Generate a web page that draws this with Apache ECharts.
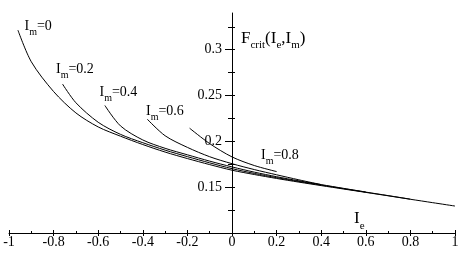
<!DOCTYPE html>
<html>
<head>
<meta charset="utf-8">
<script src="https://cdn.jsdelivr.net/npm/echarts@6/dist/echarts.min.js"></script>
<style>
html,body{margin:0;padding:0;background:#fff;}
#chart{width:460px;height:256px;}
</style>
</head>
<body>
<div id="chart"></div>
<script>
// ---- data ----
const imLevels = ['0', '0.2', '0.4', '0.6', '0.8'];

const im0X = [-0.96, -0.9, -0.8, -0.7, -0.6, -0.5, -0.4, -0.3, -0.2, -0.1, 0, 0.1, 0.2, 0.3, 0.4, 0.5, 0.6, 0.7, 0.8, 0.9, 1.0];
const im0Y = [0.3213, 0.2868, 0.2543, 0.2310, 0.2157, 0.2056, 0.1965, 0.1883, 0.1812, 0.1746, 0.1685, 0.1638, 0.1595, 0.1555, 0.1517, 0.1480, 0.1443, 0.1406, 0.1368, 0.1331, 0.1294];

const im2X = [-0.76, -0.7, -0.6, -0.5, -0.4, -0.3, -0.2, -0.1, 0, 0.1, 0.2, 0.3, 0.4, 0.5, 0.6, 0.7, 0.8];
const im2Y = [0.2625, 0.2421, 0.2208, 0.2076, 0.1985, 0.1904, 0.1833, 0.1765, 0.1702, 0.1650, 0.1604, 0.1562, 0.1523, 0.1484, 0.1446, 0.1408, 0.1369];

const im4X = [-0.57, -0.5, -0.4, -0.3, -0.2, -0.1, 0, 0.1, 0.2, 0.3, 0.4, 0.5, 0.6];
const im4Y = [0.2391, 0.2168, 0.2015, 0.1924, 0.1853, 0.1784, 0.1721, 0.1664, 0.1614, 0.1569, 0.1528, 0.1487, 0.1447];

const im6X = [-0.38, -0.3, -0.2, -0.1, 0, 0.1, 0.2, 0.3, 0.4];
const im6Y = [0.2242, 0.2061, 0.1934, 0.1832, 0.1756, 0.1692, 0.1635, 0.1580, 0.1528];

const im8X = [-0.19, -0.1, 0, 0.1, 0.2];
const im8Y = [0.2143, 0.1975, 0.1830, 0.1736, 0.1670];

const yLabelValues = [0.15, 0.2, 0.25, 0.3];
const yMajorTicks = [0.1, 0.15, 0.2, 0.25, 0.3];
const yMinorTicks = [0.125, 0.175, 0.225, 0.275, 0.325];

const curveXs = [im0X, im2X, im4X, im6X, im8X];
const curveYs = [im0Y, im2Y, im4Y, im6Y, im8Y];

// ---- chart ----
const FONT = 'Liberation Serif';
const GRID = {left: 9, right: 5, top: 13, bottom: 23};
const CHART_W = 460;
const chart = echarts.init(document.getElementById('chart'), null, {renderer: 'canvas'});

// y axis sits at x = 0 of the x axis (middle of the symmetric [-1, 1] range)
const yAxisOffset = -(CHART_W - GRID.left - GRID.right) / 2;

const series = curveXs.map((xs, k) => ({
  type: 'line',
  name: 'Im=' + imLevels[k],
  xAxisIndex: 0,
  yAxisIndex: 0,
  data: xs.map((x, i) => [x, curveYs[k][i]]),
  showSymbol: false,
  symbol: 'none',
  smooth: 0.3,
  lineStyle: {color: '#000', width: 1},
  silent: true,
  animation: false
}));

const yAllTicks = yMajorTicks.concat(yMinorTicks).sort((a, b) => a - b);

function yAx(extra) {
  return Object.assign({
    type: 'value', min: 0.1, max: 0.34, interval: 0.05, position: 'left', offset: yAxisOffset,
    splitLine: {show: false},
    axisLine: {show: false, onZero: false},
    axisLabel: {show: false}
  }, extra);
}

const labelRich = {
  i: {fontFamily: FONT, fontSize: 14, lineHeight: 14, verticalAlign: 'top', color: '#000'},
  s: {fontFamily: FONT, fontSize: 10, lineHeight: 10, verticalAlign: 'top', padding: [8, 0, 0, 0], color: '#000'}
};
const bigRich = {
  F: {fontFamily: FONT, fontSize: 17, lineHeight: 17, verticalAlign: 'top', color: '#000'},
  s: {fontFamily: FONT, fontSize: 11, lineHeight: 11, verticalAlign: 'top', padding: [10, 0, 0, 0], color: '#000'}
};
const ieRich = {
  F: {fontFamily: FONT, fontSize: 17, lineHeight: 17, verticalAlign: 'top', color: '#000'},
  s: {fontFamily: FONT, fontSize: 11, lineHeight: 11, verticalAlign: 'top', padding: [11, 0, 0, 0], color: '#000'}
};

const curveLabelPos = [[24.5, 19.2], [56, 62.5], [99.5, 85.5], [146, 104.2], [261, 148]];

const graphic = curveLabelPos.map((p, k) => ({
  type: 'text', x: p[0], y: p[1], silent: true,
  style: {text: '{i|I}{s|m}{i|=' + imLevels[k] + '}', rich: labelRich, verticalAlign: 'top', align: 'left'}
}));
graphic.push({
  type: 'text', x: 241, y: 30, silent: true,
  style: {text: '{F|F}{s|crit}{F|(I}{s|e}{F|,I}{s|m}{F|)}', rich: bigRich, verticalAlign: 'top', align: 'left'}
});
graphic.push({
  type: 'text', x: 354, y: 210, silent: true,
  style: {text: '{F|I}{s|e}', rich: ieRich, verticalAlign: 'top', align: 'left'}
});

const option = {
  animation: false,
  backgroundColor: '#fff',
  grid: Object.assign({containLabel: false, outerBoundsMode: 'none'}, GRID),
  xAxis: [
    {
      type: 'value', min: -1, max: 1, interval: 0.2, position: 'bottom',
      splitLine: {show: false},
      axisLine: {onZero: false, lineStyle: {color: '#000', width: 1}},
      axisTick: {inside: true, length: 3, lineStyle: {color: '#000'}},
      minorTick: {show: true, splitNumber: 2, length: 2, lineStyle: {color: '#000'}},
      axisLabel: {margin: 2, color: '#000', fontFamily: FONT, fontSize: 14}
    },
    {
      type: 'value', min: -1, max: 1, interval: 0.2, position: 'bottom',
      splitLine: {show: false},
      axisLine: {show: false, onZero: false},
      axisTick: {inside: false, length: 3, lineStyle: {color: '#000'}},
      axisLabel: {show: false}
    }
  ],
  yAxis: [
    yAx({
      axisLine: {show: true, onZero: false, lineStyle: {color: '#000', width: 1}},
      axisTick: {inside: false, length: 7, customValues: yMajorTicks, lineStyle: {color: '#000'}},
      axisLabel: {show: true, customValues: yLabelValues, margin: 10, color: '#000', fontFamily: FONT, fontSize: 14}
    }),
    yAx({
      axisTick: {inside: false, length: 4, customValues: yMinorTicks, lineStyle: {color: '#000'}}
    }),
    yAx({
      axisTick: {inside: true, length: 3, customValues: yAllTicks, lineStyle: {color: '#000'}}
    })
  ],
  series: series,
  graphic: graphic
};
chart.setOption(option);
</script>
</body>
</html>
